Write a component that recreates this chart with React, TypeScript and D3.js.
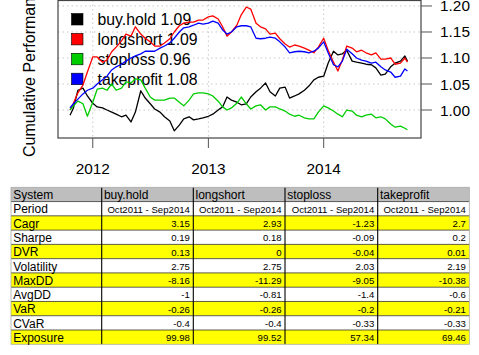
import React from "react";
import * as d3 from "d3";

const dates = [
  "2011-10-21", "2011-11-01", "2011-11-15", "2011-12-01", "2011-12-15",
  "2012-01-01", "2012-01-15", "2012-02-01", "2012-02-15", "2012-03-01", "2012-03-15",
  "2012-04-01", "2012-04-15", "2012-05-01", "2012-05-15", "2012-06-01", "2012-06-15",
  "2012-07-01", "2012-07-15", "2012-08-01", "2012-08-15", "2012-09-01", "2012-09-15",
  "2012-10-01", "2012-10-15", "2012-11-01", "2012-11-15", "2012-12-01", "2012-12-15",
  "2013-01-01", "2013-01-15", "2013-02-01", "2013-02-15", "2013-03-01", "2013-03-15",
  "2013-04-01", "2013-04-15", "2013-05-01", "2013-05-15", "2013-06-01", "2013-06-15",
  "2013-07-01", "2013-07-15", "2013-08-01", "2013-08-15", "2013-09-01", "2013-09-15",
  "2013-10-01", "2013-10-15", "2013-11-01", "2013-11-15", "2013-12-01", "2013-12-15",
  "2014-01-01", "2014-01-15", "2014-02-01", "2014-02-15", "2014-03-01", "2014-03-15",
  "2014-04-01", "2014-04-15", "2014-05-01", "2014-05-15", "2014-06-01", "2014-06-15",
  "2014-07-01", "2014-07-15", "2014-08-01", "2014-08-15", "2014-09-01", "2014-09-15",
  "2014-09-23",
];

const buyHold = [
  0.990, 1.004, 1.038, 1.042, 1.027,
  1.013, 1.006, 1.004, 1.000, 0.996, 0.992, 0.987, 0.990, 0.977, 0.996, 1.037, 1.023,
  1.012, 1.002, 0.996, 0.987, 0.979, 0.960, 0.971, 0.983, 0.987, 0.981, 0.983, 0.985,
  0.988, 0.992, 1.000, 1.006, 1.025, 1.019, 1.015, 1.010, 1.012, 1.025, 1.035, 1.042,
  1.052, 1.035, 1.027, 1.042, 1.044, 1.023, 1.027, 1.031, 1.038, 1.046, 1.058, 1.063,
  1.065, 1.090, 1.113, 1.106, 1.108, 1.115, 1.094, 1.092, 1.090, 1.088, 1.087, 1.081,
  1.067, 1.069, 1.083, 1.090, 1.094, 1.104, 1.094,
];

const longShort = [
  1.000, 1.013, 1.033, 1.048, 1.073,
  1.102, 1.102, 1.092, 1.096, 1.112, 1.121, 1.133, 1.146, 1.142, 1.160, 1.146, 1.138,
  1.131, 1.123, 1.123, 1.129, 1.137, 1.150, 1.162, 1.167, 1.169, 1.169, 1.173, 1.173,
  1.179, 1.181, 1.175, 1.160, 1.142, 1.150, 1.163, 1.183, 1.198, 1.194, 1.167, 1.160,
  1.156, 1.146, 1.148, 1.137, 1.127, 1.121, 1.125, 1.123, 1.119, 1.115, 1.110, 1.121,
  1.138, 1.115, 1.092, 1.075, 1.096, 1.123, 1.119, 1.112, 1.115, 1.110, 1.106, 1.110,
  1.098, 1.098, 1.100, 1.088, 1.090, 1.100, 1.092,
];

const stopLoss = [
  1.000, 1.008, 1.017, 1.012, 0.988,
  1.015, 1.040, 1.042, 1.038, 1.050, 1.038, 1.042, 1.054, 1.052, 1.060, 1.058, 1.042,
  1.025, 1.019, 1.019, 1.019, 1.023, 1.023, 1.015, 1.008, 1.019, 1.031, 1.033, 1.033,
  1.031, 1.027, 1.017, 1.006, 1.000, 1.004, 1.013, 1.025, 1.012, 1.002, 1.008, 1.010,
  1.000, 1.006, 1.006, 1.002, 0.998, 0.992, 0.988, 0.990, 0.985, 0.983, 0.983, 0.996,
  1.008, 1.004, 0.998, 0.992, 0.987, 1.000, 0.998, 0.990, 0.987, 0.990, 0.992, 0.985,
  0.987, 0.983, 0.973, 0.967, 0.969, 0.965, 0.962,
];

const takeProfit = [
  1.004, 1.012, 1.021, 1.031, 1.038,
  1.042, 1.050, 1.058, 1.065, 1.077, 1.083, 1.088, 1.094, 1.100, 1.104, 1.108, 1.113,
  1.113, 1.113, 1.119, 1.123, 1.129, 1.138, 1.150, 1.158, 1.160, 1.163, 1.167, 1.165,
  1.167, 1.171, 1.167, 1.154, 1.146, 1.150, 1.160, 1.162, 1.162, 1.160, 1.138, 1.137,
  1.138, 1.140, 1.138, 1.131, 1.121, 1.110, 1.112, 1.113, 1.112, 1.110, 1.113, 1.119,
  1.131, 1.110, 1.087, 1.083, 1.094, 1.117, 1.108, 1.100, 1.096, 1.094, 1.090, 1.092,
  1.083, 1.077, 1.073, 1.063, 1.065, 1.079, 1.075,
];

const seriesNames = ["buy.hold", "longshort", "stoploss", "takeprofit"];
const seriesColors = ["#000000", "#ff0000", "#00cd00", "#0000ff"];
const seriesFinal = ["1.09", "1.09", "0.96", "1.08"];

const yTicks = [1.0, 1.05, 1.1, 1.15, 1.2];
const xTicks = ["2012-01-01", "2013-01-01", "2014-01-01"];

const tableHeader = ["System", "buy.hold", "longshort", "stoploss", "takeprofit"];
const tableRowNames = ["Period", "Cagr", "Sharpe", "DVR", "Volatility", "MaxDD", "AvgDD", "VaR", "CVaR", "Exposure"];
const tableBuyHold = ["Oct2011 - Sep2014", "3.15", "0.19", "0.13", "2.75", "-8.16", "-1", "-0.26", "-0.4", "99.98"];
const tableLongShort = ["Oct2011 - Sep2014", "2.93", "0.18", "0", "2.75", "-11.29", "-0.81", "-0.26", "-0.4", "99.52"];
const tableStopLoss = ["Oct2011 - Sep2014", "-1.23", "-0.09", "-0.04", "2.03", "-9.05", "-1.4", "-0.2", "-0.33", "57.34"];
const tableTakeProfit = ["Oct2011 - Sep2014", "2.7", "0.2", "0.01", "2.19", "-10.38", "-0.6", "-0.21", "-0.33", "69.46"];
const highlightRows = ["Cagr", "DVR", "MaxDD", "VaR", "Exposure"];

const FONT = "'Liberation Sans', Arial, Helvetica, sans-serif";

export default function App() {
  const W = 479;
  const H = 355;
  const plot = { left: 58, right: 421, top: 0, bottom: 138 };

  const parse = d3.timeParse("%Y-%m-%d");
  const dateObjs = dates.map((d) => parse(d) as Date);

  const x = d3
    .scaleTime()
    .domain([parse("2011-09-13") as Date, parse("2014-11-05") as Date])
    .range([plot.left, plot.right]);
  const y = d3.scaleLinear().domain([0.9462, 1.2115]).range([plot.bottom, plot.top]);

  const allSeries = [buyHold, longShort, stopLoss, takeProfit];
  const line = d3
    .line<number>()
    .x((_, i) => x(dateObjs[i]))
    .y((v) => y(v));

  const tableCols = [tableBuyHold, tableLongShort, tableStopLoss, tableTakeProfit];
  const tLeft = 11;
  const tTop = 187.3;
  const rowH = 14.27;
  const colEdges = [11, 101.7, 193.3, 285, 377.7, 469.3];
  const nRows = tableRowNames.length + 1;

  const gridColor = "#c8c8c8";

  return (
    <svg
      width={W}
      height={H}
      style={{ position: "absolute", left: 0, top: 0, background: "#fff" }}
      fontFamily={FONT}
    >
      <rect x={0} y={0} width={W} height={H} fill="#fff" />
      {/* grid */}
      {yTicks.map((t) => (
        <line
          key={"gy" + t}
          x1={plot.left}
          x2={plot.right}
          y1={y(t)}
          y2={y(t)}
          stroke={gridColor}
          strokeWidth={1}
          strokeDasharray="1.5,3"
        />
      ))}
      {xTicks.map((t) => (
        <line
          key={"gx" + t}
          x1={x(parse(t) as Date)}
          x2={x(parse(t) as Date)}
          y1={plot.top}
          y2={plot.bottom}
          stroke={gridColor}
          strokeWidth={1}
          strokeDasharray="1.5,3"
        />
      ))}
      {/* legend */}
      {seriesNames.map((n, i) => (
        <g key={"lg" + n}>
          <rect
            x={71.5}
            y={13.5 + i * 19.9}
            width={11.5}
            height={11.5}
            fill={seriesColors[i]}
            stroke="#000"
            strokeWidth={0.6}
          />
          <text x={97.5} y={25.3 + i * 19.9} fontSize={15.8} fill="#000">
            {n + " " + seriesFinal[i]}
          </text>
        </g>
      ))}
      {/* series */}
      {allSeries.map((s, i) => (
        <path
          key={"s" + i}
          d={line(s) || ""}
          fill="none"
          stroke={seriesColors[i]}
          strokeWidth={1.3}
          strokeLinejoin="round"
        />
      ))}
      {/* box */}
      <rect
        x={plot.left}
        y={plot.top + 0.5}
        width={plot.right - plot.left}
        height={plot.bottom - plot.top - 0.5}
        fill="none"
        stroke="#444"
        strokeWidth={1.2}
      />
      {/* y axis right */}
      {yTicks.map((t) => (
        <g key={"yt" + t}>
          <line x1={plot.right} x2={plot.right + 11} y1={y(t)} y2={y(t)} stroke="#555" strokeWidth={1} />
          <text x={440} y={y(t) + 5.5} fontSize={15.4} fill="#000">
            {t.toFixed(2)}
          </text>
        </g>
      ))}
      {/* x axis */}
      {xTicks.map((t) => (
        <g key={"xt" + t}>
          <line
            x1={x(parse(t) as Date)}
            x2={x(parse(t) as Date)}
            y1={plot.bottom}
            y2={plot.bottom + 10}
            stroke="#555"
            strokeWidth={1}
          />
          <text x={x(parse(t) as Date)} y={173.5} fontSize={15.4} textAnchor="middle" fill="#000">
            {t.slice(0, 4)}
          </text>
        </g>
      ))}
      <text
        transform={`translate(35,69) rotate(-90)`}
        fontSize={16}
        textAnchor="middle"
        fill="#000"
      >
        Cumulative Performance
      </text>

      {/* table */}
      {Array.from({ length: nRows }).map((_, r) => {
        const name = r === 0 ? tableHeader[0] : tableRowNames[r - 1];
        const fill = r === 0 ? "#bebebe" : highlightRows.includes(name) ? "#ffff00" : "#ffffff";
        return (
          <rect
            key={"bg" + r}
            x={tLeft}
            y={tTop + r * rowH}
            width={colEdges[5] - tLeft}
            height={rowH}
            fill={fill}
          />
        );
      })}
      {Array.from({ length: nRows - 1 }).map((_, r) => (
        <line
          key={"hl" + r}
          x1={tLeft}
          x2={colEdges[5]}
          y1={tTop + (r + 1) * rowH}
          y2={tTop + (r + 1) * rowH}
          stroke="#333"
          strokeWidth={0.8}
        />
      ))}
      {colEdges.slice(1, 5).map((cx, i) => (
        <line key={"vl" + i} x1={cx} x2={cx} y1={tTop} y2={tTop + nRows * rowH} stroke="#000" strokeWidth={1.1} />
      ))}
      <rect
        x={tLeft}
        y={tTop}
        width={colEdges[5] - tLeft}
        height={nRows * rowH}
        fill="none"
        stroke="#aaa"
        strokeWidth={0.8}
      />
      {tableHeader.map((h, c) => (
        <text key={"th" + c} x={colEdges[c] + 2.2} y={tTop + rowH - 2.4} fontSize={12} fill="#000">
          {h}
        </text>
      ))}
      {tableRowNames.map((n, r) => (
        <text key={"rn" + r} x={colEdges[0] + 2.2} y={tTop + (r + 2) * rowH - 2.4} fontSize={12} fill="#000">
          {n}
        </text>
      ))}
      {tableCols.map((col, c) =>
        col.map((v, r) => (
          <text
            key={"tv" + c + "-" + r}
            x={colEdges[c + 2] - 3.4}
            y={tTop + (r + 2) * rowH - 3}
            fontSize={9.6}
            textAnchor="end"
            fill="#000"
          >
            {v}
          </text>
        ))
      )}
    </svg>
  );
}
